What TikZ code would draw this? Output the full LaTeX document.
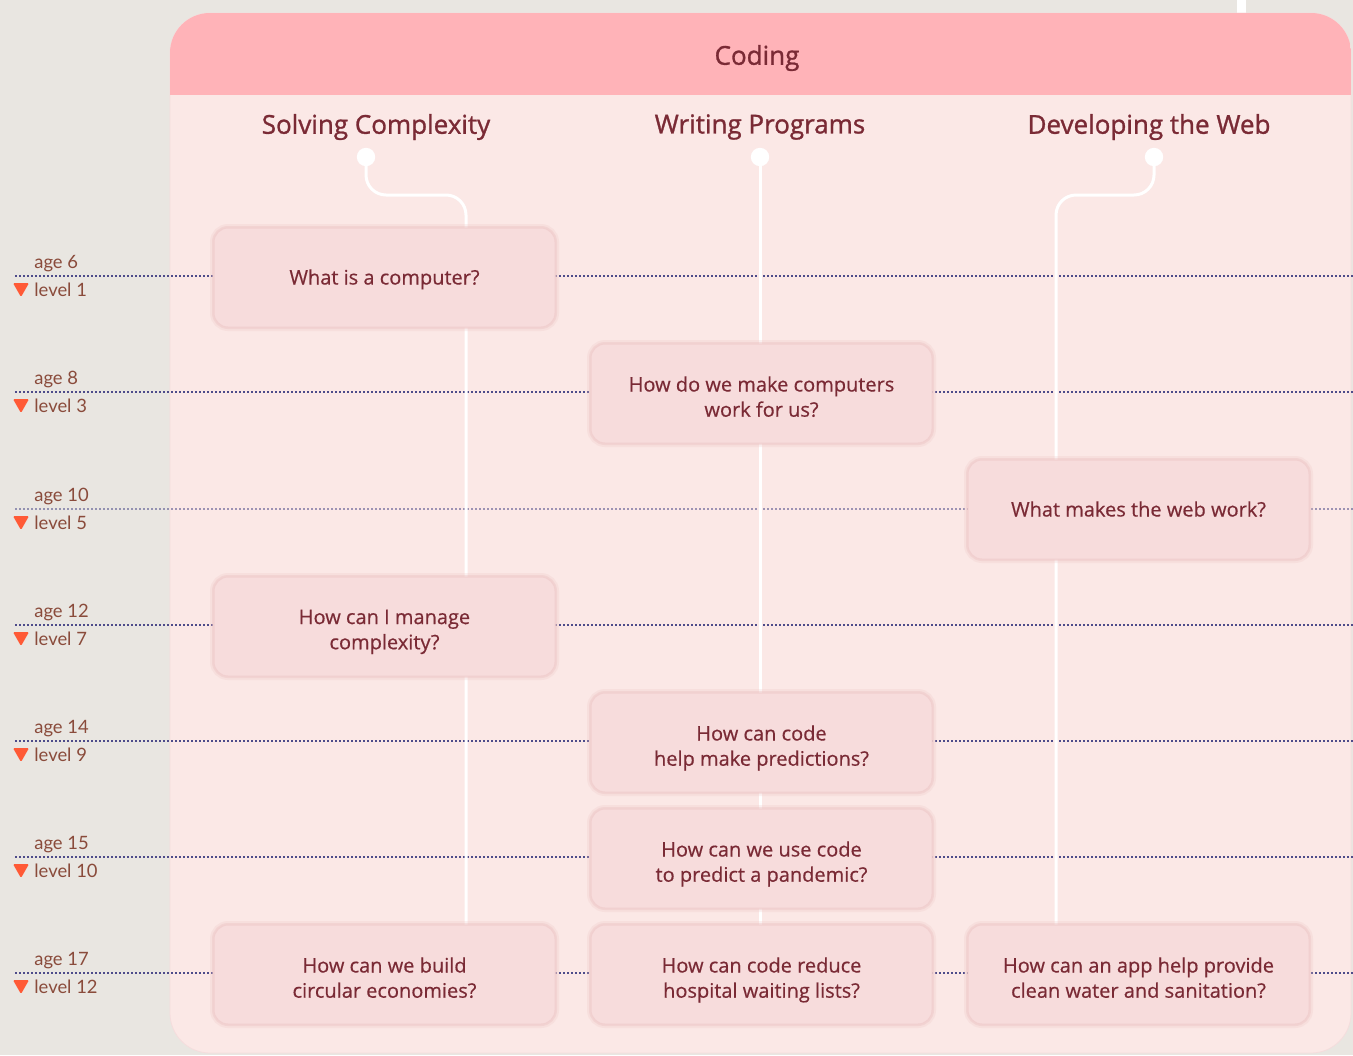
\documentclass[tikz,border=0pt]{standalone}
\usepackage{fontspec}
\setmainfont{Open Sans}
\newfontfamily\boxfont{Open Sans}[FakeBold=0.5]
\newfontfamily\headfont{Open Sans}[FakeBold=1.1]
\newfontfamily\labfont{Lato}
\definecolor{bg}{HTML}{E9E6E1}
\definecolor{panel}{HTML}{FBE8E6}
\definecolor{header}{HTML}{FFB3B8}
\definecolor{boxfill}{HTML}{F7DCDC}
\definecolor{boxline}{HTML}{F1CFCF}
\definecolor{shade}{HTML}{EEC6C6}
\definecolor{txt}{HTML}{7A2A35}
\definecolor{lab}{HTML}{8A4B3B}
\definecolor{tri}{HTML}{FF5A36}
\definecolor{dots}{HTML}{4E4C8A}
\tikzset{
  qbox/.style={draw=boxline, line width=0.5pt, fill=boxfill, rounded corners=7pt,
    minimum width=170.5pt, minimum height=49.5pt,
    preaction={draw=shade, line width=4pt, opacity=0.25},
    preaction={draw=shade, line width=2pt, opacity=0.45}},
  qtext/.style={align=center, text=txt, inner sep=0pt, text depth=0pt, font=\boxfont\fontsize{10}{12.6}\selectfont},
  colhead/.style={text=txt, font=\headfont\fontsize{13}{15}\selectfont},
  track/.style={white, line width=1.5pt, rounded corners=10pt},
  grid/.style={dots, line width=0.6pt, dash pattern=on 0.8pt off 1.2pt},
  agelab/.style={text=lab, anchor=west, inner sep=0pt, font=\labfont\fontsize{9.2}{11}\selectfont},
}
\begin{document}
\begin{tikzpicture}[x=0.5pt,y=-0.5pt]
\useasboundingbox (0,0) rectangle (1353,1055);
\fill[bg] (0,0) rectangle (1353,1055);
\fill[white] (1237,0) rectangle (1246,14);
% panel
\fill[panel] (170,13) [rounded corners=20pt] rectangle (1351,1053);
\draw[boxline!70, line width=0.4pt, rounded corners=20pt] (170,13) rectangle (1351,1053);
\begin{scope}
  \clip[rounded corners=20pt] (170,13) rectangle (1351,1053);
  \fill[header] (170,0) rectangle (1351,95);
\end{scope}
\node[colhead] (coding) at (757,58) {Coding};
\node[colhead] (h1) at (376,127) {Solving Complexity};
\node[colhead] (h2) at (760,127) {Writing Programs};
\node[colhead] (h3) at (1149,127) {Developing the Web};

% grid lines and labels
\foreach \y/\a/\l/\op in {276/6/1/1, 392/8/3/1, 509/10/5/0.55, 625/12/7/1, 741/14/9/1, 857/15/10/1, 973/17/12/1} {
  \coordinate (gl\a) at (15,\y);
  \coordinate (gr\a) at (1353,\y);
  \draw[grid, opacity=\op] (gl\a) -- (gr\a);
  \node[agelab] (age\a) at (34,\y-12) {age \a};
  \node[agelab] (lev\a) at (34,\y+14) {level \l};
  \fill[tri, rounded corners=0.6pt] (13,\y+7) -- (29,\y+7) -- (21,\y+21) -- cycle;
}

% track start dots
\coordinate (d1) at (366,157);
\coordinate (d2) at (760,157);
\coordinate (d3) at (1154,157);
\coordinate (e1) at (466,925);
\coordinate (e2) at (760,925);
\coordinate (e3) at (1056,925);
\draw[track] (d1) -- (366,195) -- (466,195) -- (e1);
\draw[track] (d2) -- (e2);
\draw[track] (d3) -- (1154,195) -- (1056,195) -- (e3);
\foreach \d in {d1,d2,d3} \fill[white] (\d) circle[radius=4.6pt];

% boxes
\node[qbox] (b1) at (384.5,277.5) {};
\node[qbox] (b2) at (761.5,393.5) {};
\node[qbox] (b3) at (1138.5,509.5) {};
\node[qbox] (b4) at (384.5,626.5) {};
\node[qbox] (b5) at (761.5,742.5) {};
\node[qbox] (b6) at (761.5,858.5) {};
\node[qbox] (b7) at (384.5,974.5) {};
\node[qbox] (b8) at (761.5,974.5) {};
\node[qbox] (b9) at (1138.5,974.5) {};
\node[qtext] (t1) at ([yshift=0.3pt]b1.center) {What is a computer?};
\node[qtext] (t2) at ([yshift=-1.5pt]b2.center) {How do we make computers\\work for us?};
\node[qtext] (t3) at ([yshift=0.3pt]b3.center) {What makes the web work?};
\node[qtext] (t4) at ([yshift=-1.5pt]b4.center) {How can I manage\\complexity?};
\node[qtext] (t5) at ([yshift=-1.5pt]b5.center) {How can code\\help make predictions?};
\node[qtext] (t6) at ([yshift=-1.5pt]b6.center) {How can we use code\\to predict a pandemic?};
\node[qtext] (t7) at ([yshift=-1.5pt]b7.center) {How can we build\\circular economies?};
\node[qtext] (t8) at ([yshift=-1.5pt]b8.center) {How can code reduce\\hospital waiting lists?};
\node[qtext] (t9) at ([yshift=-1.5pt]b9.center) {How can an app help provide\\clean water and sanitation?};
\end{tikzpicture}
\end{document}
